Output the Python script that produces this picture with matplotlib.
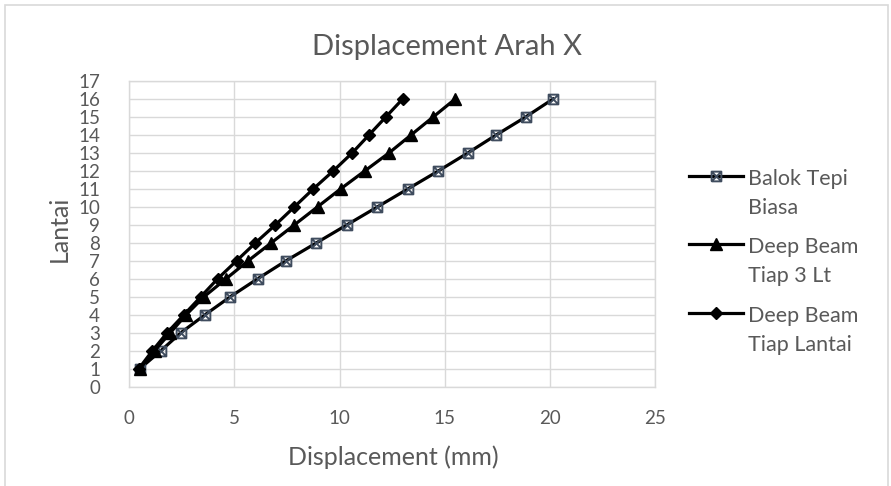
import matplotlib
matplotlib.use("Agg")
import matplotlib.pyplot as plt
from matplotlib.path import Path
from matplotlib.lines import Line2D
from matplotlib.patches import Rectangle

plt.rcParams['font.family'] = ['Lato', 'DejaVu Sans']

floors = list(range(1, 17))
balok_tepi = [0.5, 1.5, 2.45, 3.6, 4.8, 6.1, 7.45, 8.9, 10.35, 11.8, 13.25, 14.7, 16.1, 17.45, 18.85, 20.15]
deep_3lt = [0.5, 1.2, 1.95, 2.7, 3.55, 4.6, 5.65, 6.75, 7.85, 8.95, 10.05, 11.2, 12.35, 13.4, 14.45, 15.5]
deep_lantai = [0.45, 1.1, 1.8, 2.6, 3.4, 4.2, 5.1, 6.0, 6.95, 7.85, 8.75, 9.7, 10.6, 11.4, 12.2, 13.0]
series_names = [("Balok Tepi", "Biasa"), ("Deep Beam", "Tiap 3 Lt"), ("Deep Beam", "Tiap Lantai")]
x_ticks = [0, 5, 10, 15, 20, 25]
y_ticks = list(range(0, 18))

W, H = 891, 486
fig = plt.figure(figsize=(W / 100, H / 100), dpi=100)
fig.patch.set_facecolor('white')

# outer chart border
fig.add_artist(Rectangle((5 / W, -0.02), (888 - 5) / W, (H - 5) / H + 0.02,
                         transform=fig.transFigure, fill=False,
                         edgecolor='#d9d9d9', linewidth=1.2))

L, R, T, B = 129.3, 655, 81, 386.7
ax = fig.add_axes([L / W, 1 - B / H, (R - L) / W, (B - T) / H])

sq_x = Path([(-1, -1), (1, -1), (1, 1), (-1, 1), (-1, -1), (-1, -1), (1, 1), (-1, 1), (1, -1)],
            [Path.MOVETO, Path.LINETO, Path.LINETO, Path.LINETO, Path.LINETO,
             Path.MOVETO, Path.LINETO, Path.MOVETO, Path.LINETO])

gray_text = '#595959'
lw = 2.3
styles = [
    dict(marker=sq_x, markersize=7, markerfacecolor='none', markeredgecolor='#3f4c5e', markeredgewidth=1.4),
    dict(marker='^', markersize=8.5, markerfacecolor='black', markeredgecolor='black'),
    dict(marker='D', markersize=6, markerfacecolor='black', markeredgecolor='black'),
]
for vals, st in zip([balok_tepi, deep_3lt, deep_lantai], styles):
    ax.plot(vals, floors, color='black', linewidth=lw, zorder=3, **st)

ax.set_xlim(0, 25)
ax.set_ylim(0, 17)
ax.set_xticks(x_ticks)
ax.set_yticks(y_ticks)
ax.grid(True, color='#d9d9d9', linewidth=1.0)
ax.set_axisbelow(True)
for s in ax.spines.values():
    s.set_color('#d9d9d9')
    s.set_linewidth(1.0)
ax.tick_params(length=0, labelsize=13.5, labelcolor=gray_text)
ax.tick_params(axis='x', pad=17)
ax.tick_params(axis='y', pad=21)

fig.text(447 / W, 1 - 55 / H, "Displacement Arah X", ha='center', va='baseline',
         fontsize=21, color=gray_text)
fig.text(59 / W, 1 - 229 / H, "Lantai", ha='center', va='center', rotation=90,
         fontsize=18, color=gray_text)
fig.text(393 / W, 1 - 465 / H, "Displacement (mm)", ha='center', va='baseline',
         fontsize=18, color=gray_text)

# legend (manual)
leg_y = [176, 244, 313]
for (l1, l2), st, y in zip(series_names, styles, leg_y):
    yf = 1 - y / H
    fig.add_artist(Line2D([689 / W, 743 / W], [yf, yf], transform=fig.transFigure,
                          color='black', linewidth=lw))
    fig.add_artist(Line2D([716 / W], [yf], transform=fig.transFigure,
                          linestyle='none', **st))
    fig.text(748 / W, 1 - (y + 8.5) / H, l1, ha='left', va='baseline', fontsize=15.5,
             color=gray_text)
    fig.text(748 / W, 1 - (y + 38) / H, l2, ha='left', va='baseline', fontsize=15.5,
             color=gray_text)

fig.savefig("out.png", dpi=100)
